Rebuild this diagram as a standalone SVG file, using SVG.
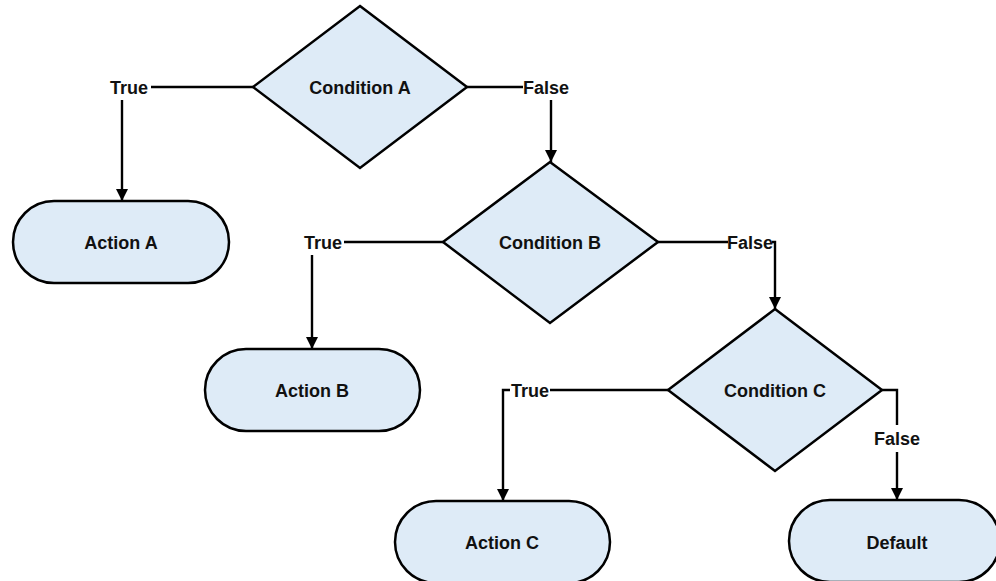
<svg xmlns="http://www.w3.org/2000/svg" width="996" height="581" viewBox="0 0 996 581">
<style>
.shape{fill:#DEEBF7;stroke:#000;stroke-width:2.5}
.conn{fill:none;stroke:#000;stroke-width:2.4}
text{font-family:"Liberation Sans",Arial,sans-serif;font-weight:bold;font-size:18px;fill:#111;text-anchor:middle}
</style>
<defs>
<marker id="arr" viewBox="0 0 12 12" markerWidth="12" markerHeight="12" refX="12" refY="6" orient="auto" markerUnits="userSpaceOnUse">
<path d="M0,0 L12,6 L0,12 z" fill="#000"/>
</marker>
</defs>
<rect width="996" height="581" fill="#fff"/>
<g id="connectors">
<path class="conn" d="M253,87 H151"/>
<path class="conn" d="M122,100 V201" marker-end="url(#arr)"/>
<path class="conn" d="M467,87 H523"/>
<path class="conn" d="M551,100 V162" marker-end="url(#arr)"/>
<path class="conn" d="M443,242 H344"/>
<path class="conn" d="M312,255 V349" marker-end="url(#arr)"/>
<path class="conn" d="M658,242 H728"/>
<path class="conn" d="M772,242 H775 V309" marker-end="url(#arr)"/>
<path class="conn" d="M668,390 H550"/>
<path class="conn" d="M510,390 H503 V501" marker-end="url(#arr)"/>
<path class="conn" d="M882,390 H897 V425"/>
<path class="conn" d="M897,452 V500" marker-end="url(#arr)"/>
<text x="129" y="93.5">True</text>
<text x="546" y="93.5">False</text>
<text x="323" y="248.5">True</text>
<text x="750" y="248.5">False</text>
<text x="530" y="396.5">True</text>
<text x="897" y="444.5">False</text>
</g>
<g id="condA">
<polygon class="shape" points="360,6 467,87 360,168 253,87"/>
<text x="360" y="93.5">Condition A</text>
</g>
<g id="condB">
<polygon class="shape" points="550,162 658,242 550,323 443,242"/>
<text x="550" y="248.5">Condition B</text>
</g>
<g id="condC">
<polygon class="shape" points="775,309 882,390 775,471 668,390"/>
<text x="775" y="396.5">Condition C</text>
</g>
<g id="actionA">
<rect class="shape" x="13" y="201" width="216" height="82" rx="41" ry="41"/>
<text x="121" y="248.5">Action A</text>
</g>
<g id="actionB">
<rect class="shape" x="205" y="349" width="215" height="82" rx="41" ry="41"/>
<text x="312" y="396.5">Action B</text>
</g>
<g id="actionC">
<rect class="shape" x="395" y="501" width="215" height="82" rx="41" ry="41"/>
<text x="502" y="548.5">Action C</text>
</g>
<g id="default">
<rect class="shape" x="789" y="500" width="211" height="82" rx="41" ry="41"/>
<text x="897" y="548.5">Default</text>
</g>
</svg>
